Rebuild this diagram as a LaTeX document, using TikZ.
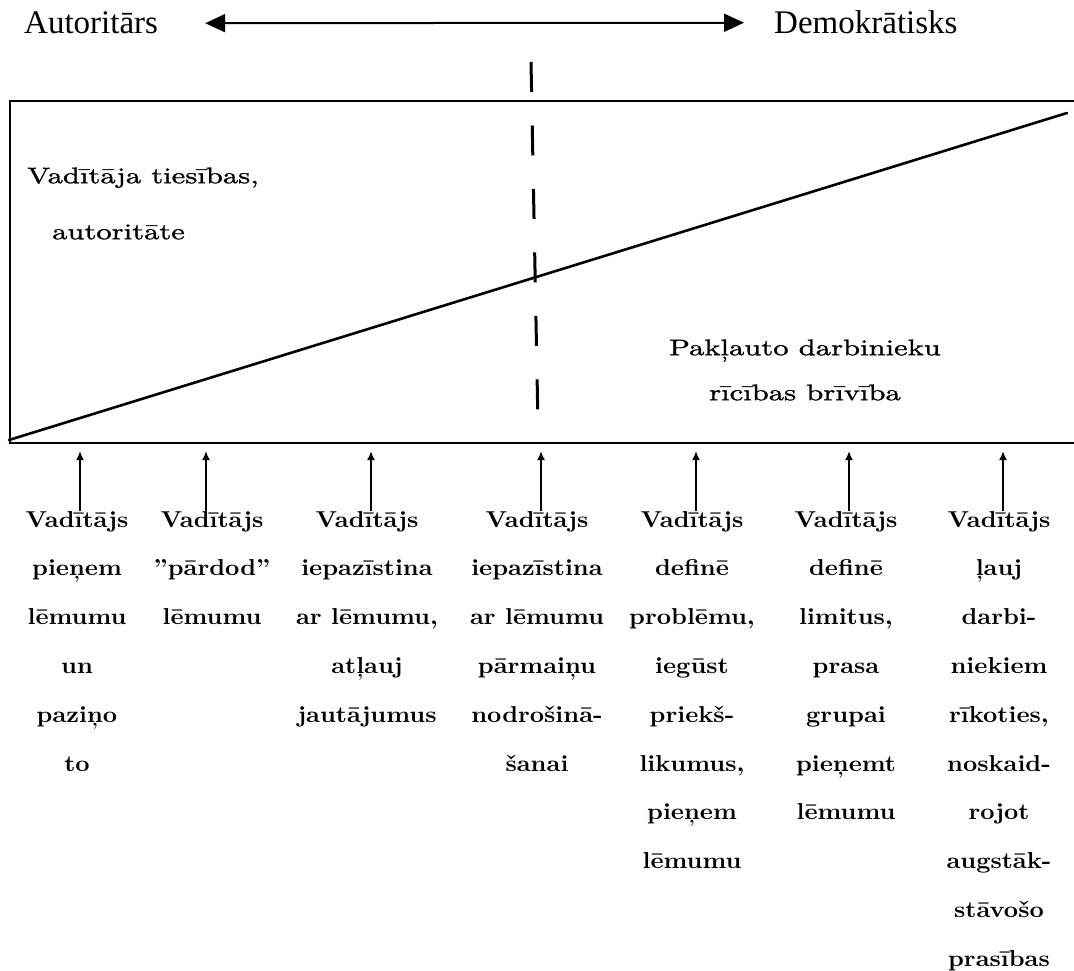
\documentclass[tikz,border=0pt]{standalone}
\usepackage{fontspec}
\usetikzlibrary{arrows.meta}
\newfontfamily\headfont{Liberation Serif}
\newfontfamily\bodyfont{lmroman10-regular.otf}[FakeStretch=1.36, FakeBold=1.2]
\newfontfamily\colfont{lmroman10-bold.otf}[FakeStretch=1.08]

\tikzset{
  headlabel/.style={font=\headfont\fontsize{33}{40}\selectfont, inner sep=0pt},
  spanarrow/.style={line width=2pt, {Triangle[length=20pt,width=18pt]}-{Triangle[length=20pt,width=18pt]}},
  boxline/.style={line width=2pt},
  slope/.style={line width=2.6pt, line cap=round},
  divider/.style={line width=3pt, dash pattern=on 30pt off 33.5pt},
  areatext/.style={font=\bodyfont\fontsize{22.5}{#1}\selectfont, inner sep=0pt},
  coltext/.style={font=\colfont\fontsize{23}{48.8}\selectfont, align=center, inner sep=0pt, anchor=north},
  pointer/.style={line width=1.9pt, -{Latex[length=9pt,width=8pt]}}
}

\begin{document}
\begin{tikzpicture}[x=1pt, y=-1pt]
\useasboundingbox (0,0) rectangle (1074,971);

% scale from authoritarian to democratic
\node[headlabel, anchor=base west] (aut) at (24,34) {Autoritārs};
\node[headlabel, anchor=base west] (dem) at (774,34) {Demokrātisks};
\draw[spanarrow, shorten <=47pt, shorten >=30pt] (aut.east) -- (dem.west);

% frame and the dividing slope
\draw[boxline] (1074,101) -- (10,101) -- (10,443) -- (1074,443);
\draw[slope] (9,440) -- (1067,113);
\draw[divider] (531,62) -- (538,425);

% the two areas
\node[areatext=56, align=left, anchor=north west] (rights) at (27,167.4)
  {Vadītāja tiesības,\\\hspace*{25pt}autoritāte};
\node[areatext=45, align=center, anchor=north] (freedom) at (805,339.4)
  {Pakļauto darbinieku\\rīcības brīvība};

% leadership styles
\node[coltext] (c1) at (77,511) {Vadītājs\\pieņem\\lēmumu\\un\\paziņo\\to};
\node[coltext] (c2) at (212,511) {Vadītājs\\”pārdod”\\lēmumu};
\node[coltext] (c3) at (367,511) {Vadītājs\\iepazīstina\\ar lēmumu,\\atļauj\\jautājumus};
\node[coltext] (c4) at (537,511) {Vadītājs\\iepazīstina\\ar lēmumu\\pārmaiņu\\nodrošinā-\\šanai};
\node[coltext] (c5) at (692,511) {Vadītājs\\definē\\problēmu,\\iegūst\\priekš-\\likumus,\\pieņem\\lēmumu};
\node[coltext] (c6) at (846,511) {Vadītājs\\definē\\limitus,\\prasa\\grupai\\pieņemt\\lēmumu};
\node[coltext] (c7) at (999,511) {Vadītājs\\ļauj\\darbi-\\niekiem\\rīkoties,\\noskaid-\\rojot\\augstāk-\\stāvošo\\prasības};

% pointers up to the base line
\coordinate (p1) at (80,451);
\coordinate (p2) at (206,451);
\coordinate (p3) at (371,451);
\coordinate (p4) at (541,451);
\coordinate (p5) at (696,451);
\coordinate (p6) at (849,451);
\coordinate (p7) at (1003,451);
\foreach \i in {1,...,7}
  \draw[pointer] (p\i |- c\i.north) -- (p\i);
\end{tikzpicture}
\end{document}
